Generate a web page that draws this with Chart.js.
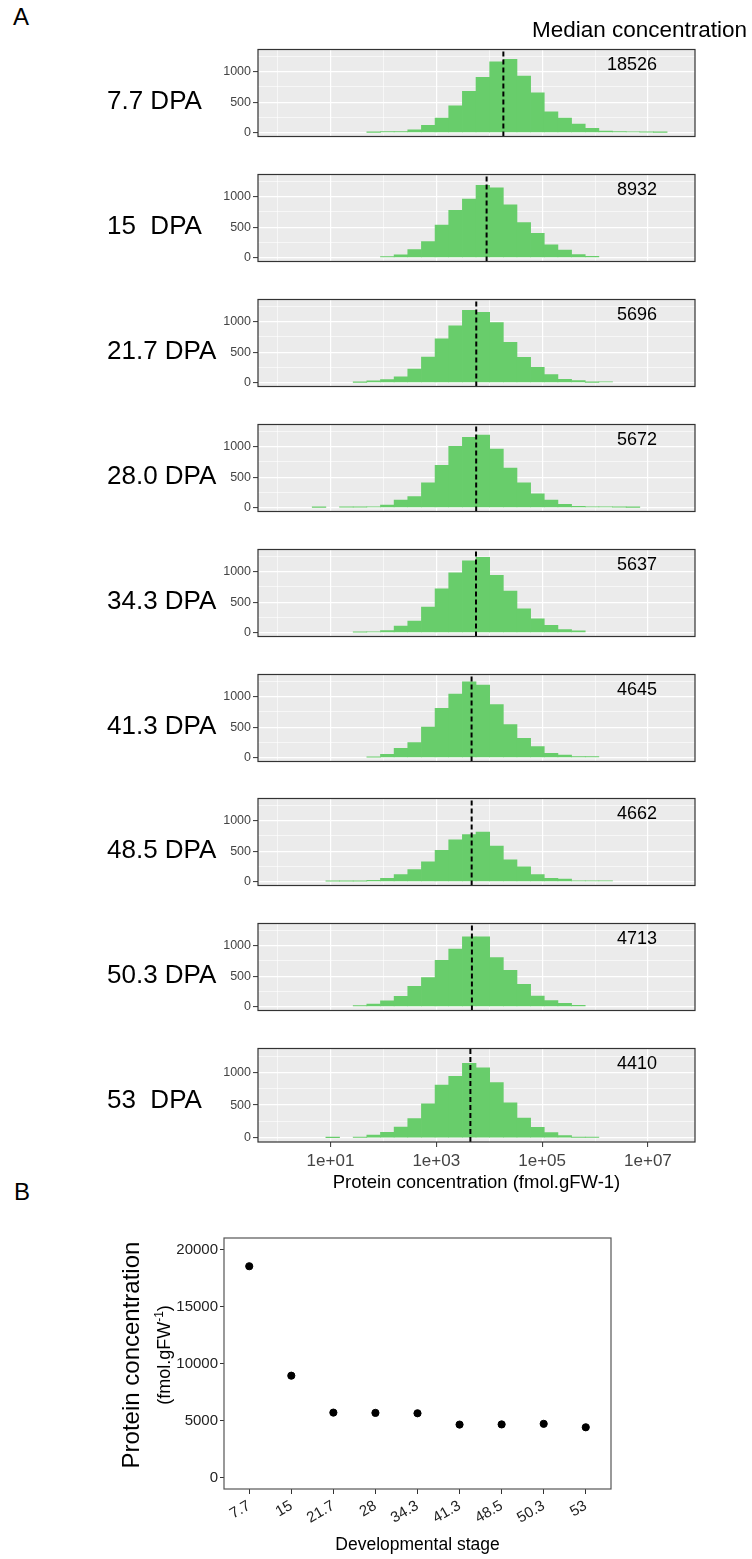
<!DOCTYPE html>
<html>
<head>
<meta charset="utf-8">
<script src="https://cdn.jsdelivr.net/npm/chart.js@4.4.0/dist/chart.umd.min.js"></script>
<style>
  body { margin: 0; background: #fff; font-family: 'Liberation Sans', Arial, sans-serif; }
  #page { position: relative; width: 752px; height: 1559px; overflow: hidden; }
  #page canvas { position: absolute; }
  .lbl { position: absolute; color: #000; white-space: pre; line-height: 1; z-index: 2; }
  .stage { font-size: 26px; left: 107px; }
  #ytitleB { position: absolute; left: 15px; top: 1327px; width: 260px; height: 56px;
             transform: rotate(-90deg); text-align: center; z-index: 2; color: #000; }
  #ytitleB div { height: 28px; line-height: 28px; white-space: nowrap; }
</style>
</head>
<body>
<div id="page">
  <div class="lbl" style="left:13px;top:5px;font-size:24px">A</div>
  <div class="lbl" style="left:14px;top:1180px;font-size:24px">B</div>
  <div class="lbl" style="left:532px;top:19px;font-size:22.5px">Median concentration</div>
  <div id="ytitleB">
    <div style="font-size:24px">Protein concentration</div>
    <div style="font-size:18px">(fmol.gFW<sup style="font-size:12px">-1</sup>)</div>
  </div>
</div>
<script>
// ---- data ----
const stages      = ['7.7', '15', '21.7', '28', '34.3', '41.3', '48.5', '50.3', '53'];
const stageLabels = ['7.7 DPA', '15  DPA', '21.7 DPA', '28.0 DPA', '34.3 DPA',
                     '41.3 DPA', '48.5 DPA', '50.3 DPA', '53  DPA'];
const medians     = [18526, 8932, 5696, 5672, 5637, 4645, 4662, 4713, 4410];

// histogram bin centres, log10(fmol.gFW-1)
const binCentres = [0.010, 0.268, 0.526, 0.784, 1.042, 1.300, 1.558, 1.816, 2.074, 2.332,
                    2.590, 2.848, 3.106, 3.364, 3.622, 3.880, 4.138, 4.396, 4.654, 4.912,
                    5.170, 5.428, 5.686, 5.944, 6.202, 6.460, 6.718, 6.976, 7.234, 7.492];

// counts per bin, one array per stage
const hist77  = [0,0,0,0,0,0,0,3,15,15,44,117,239,439,678,907,1161,1205,927,654,341,239,141,68,24,15,10,8,3,0];
const hist15  = [0,0,0,0,0,0,0,0,15,44,132,263,532,776,961,1185,1146,868,576,400,210,122,49,20,0,0,0,0,0,0];
const hist217 = [0,0,0,0,0,0,3,29,49,93,220,420,717,932,1185,1156,985,659,415,249,132,54,34,3,10,0,0,0,0,0];
const hist280 = [0,0,0,3,0,8,8,10,39,122,180,405,693,1005,1156,1190,961,649,405,224,122,54,20,10,10,8,3,0,0,0];
const hist343 = [0,0,0,0,0,0,5,10,34,108,187,419,719,980,1177,1236,941,680,389,227,118,49,30,0,0,0,0,0,0,0];
const hist413 = [0,0,0,0,0,0,0,8,54,153,246,502,808,1044,1246,1192,872,542,315,182,69,39,15,15,0,0,0,0,0,0];
const hist485 = [0,0,0,0,5,5,5,20,54,113,197,325,512,685,773,813,581,355,241,113,54,39,10,10,10,0,0,0,0,0];
const hist503 = [0,0,0,0,0,0,15,39,93,166,332,478,761,946,1146,1146,805,595,366,171,98,54,20,0,0,0,0,0,0,0];
const hist53  = [0,0,0,0,3,0,5,40,84,163,292,520,807,941,1139,1069,842,535,302,158,79,35,5,5,0,0,0,0,0,0];
const histograms = [hist77, hist15, hist217, hist280, hist343, hist413, hist485, hist503, hist53];

// axis ticks
const xMajor       = [1, 3, 5, 7];
const xMajorLabels = ['1e+01', '1e+03', '1e+05', '1e+07'];
const xMinor       = [0, 2, 4, 6];
const yMajor       = [0, 500, 1000];
const yMinor       = [250, 750, 1250];
const concTicks    = [0, 5000, 10000, 15000, 20000];

// ---- look ----
const FONT  = "'Liberation Sans', Arial, sans-serif";
const GREEN = '#68CD6B';
Chart.defaults.font.family = FONT;

// grey panel, frame and median label
const panelDeco = {
  id: 'panelDeco',
  beforeDraw(chart, args, o) {
    const { ctx, chartArea: a } = chart;
    ctx.save();
    ctx.fillStyle = o.bg;
    ctx.fillRect(a.left, a.top, a.right - a.left, a.bottom - a.top);
    ctx.restore();
  },
  afterDraw(chart, args, o) {
    const { ctx, chartArea: a } = chart;
    ctx.save();
    ctx.strokeStyle = o.border;
    ctx.lineWidth = o.borderWidth || 1.2;
    ctx.strokeRect(a.left, a.top, a.right - a.left, a.bottom - a.top);
    if (o.label) {
      ctx.font = '18px ' + FONT;
      ctx.fillStyle = '#000';
      ctx.textAlign = 'right';
      ctx.textBaseline = 'middle';
      ctx.fillText(o.label, a.right - 38, a.top + 16);
    }
    ctx.restore();
  }
};

const page = document.getElementById('page');

function addCanvas(left, top, w, h) {
  const c = document.createElement('canvas');
  c.width = w; c.height = h;
  c.style.left = left + 'px'; c.style.top = top + 'px';
  c.style.width = w + 'px'; c.style.height = h + 'px';
  page.appendChild(c);
  return c;
}

function addLabel(text, top) {
  const d = document.createElement('div');
  d.className = 'lbl stage';
  d.style.top = top + 'px';
  d.textContent = text;
  page.appendChild(d);
}

// ---- panel A: one histogram per stage ----
const Y_MIN = -65, Y_MAX = 1365;
const PLOT_H = 98;

histograms.forEach((counts, k) => {
  const last = k === histograms.length - 1;
  const plotTop = Math.round(45 + k * 124.9);
  const xH = last ? 54 : 0;
  const cv = addCanvas(200, plotTop - 5, 500, 5 + PLOT_H + (last ? xH : 3));
  addLabel(stageLabels[k], plotTop + 55 - 13);

  const med = Math.log10(medians[k]);
  const isMajorX = v => xMajor.includes(v);
  const isMajorY = v => yMajor.includes(v);

  new Chart(cv, {
    type: 'bar',
    data: {
      datasets: [
        {
          type: 'line',
          data: [{ x: med, y: Y_MIN }, { x: med, y: Y_MAX }],
          borderColor: '#000',
          borderWidth: 2,
          borderDash: [5, 3],
          pointRadius: 0,
          order: 0
        },
        {
          type: 'bar',
          // empty bins are left out (no zero-height sliver)
          data: binCentres.map((x, i) => ({ x, y: counts[i] > 0 ? counts[i] : null })),
          backgroundColor: GREEN,
          borderWidth: 0,
          barPercentage: 1,
          categoryPercentage: 1,
          order: 1
        }
      ]
    },
    options: {
      responsive: false,
      animation: false,
      layout: { padding: { top: 5, right: 5, bottom: last ? 0 : 3, left: 0 } },
      plugins: {
        legend: { display: false },
        tooltip: { enabled: false },
        panelDeco: { bg: '#EBEBEB', border: '#333', label: String(medians[k]) }
      },
      scales: {
        x: {
          type: 'linear',
          min: -0.37, max: 7.89,
          offset: false,
          afterBuildTicks: s => { s.ticks = xMinor.concat(xMajor).sort((a, b) => a - b).map(v => ({ value: v })); },
          afterFit: s => { s.height = xH; },
          ticks: {
            display: last,
            autoSkip: false,
            maxRotation: 0,
            padding: 4,
            color: '#444',
            font: { size: 17 },
            callback: v => { const i = xMajor.indexOf(v); return i < 0 ? '' : xMajorLabels[i]; }
          },
          grid: {
            offset: false,
            color: '#fff',
            lineWidth: c => isMajorX(c.tick.value) ? 1.2 : 0.6,
            drawTicks: last,
            tickLength: 5,
            tickWidth: 1,
            tickColor: c => isMajorX(c.tick.value) ? '#333' : 'rgba(0,0,0,0)'
          },
          border: { display: false },
          title: {
            display: last,
            text: 'Protein concentration (fmol.gFW-1)',
            color: '#000',
            font: { size: 18.5 },
            padding: { top: 0, bottom: 2 }
          }
        },
        y: {
          min: Y_MIN, max: Y_MAX,
          afterBuildTicks: s => { s.ticks = yMinor.concat(yMajor).sort((a, b) => a - b).map(v => ({ value: v })); },
          afterFit: s => { s.width = 58; },
          ticks: {
            autoSkip: false,
            padding: 2,
            color: '#444',
            font: { size: 12.5 },
            callback: v => isMajorY(v) ? String(v) : ''
          },
          grid: {
            color: '#fff',
            lineWidth: c => isMajorY(c.tick.value) ? 1.2 : 0.6,
            tickLength: 5,
            tickWidth: 1,
            tickColor: c => isMajorY(c.tick.value) ? '#333' : 'rgba(0,0,0,0)'
          },
          border: { display: false }
        }
      }
    },
    plugins: [panelDeco]
  });
});

// ---- panel B: medians by stage ----
const cvB = addCanvas(0, 1220, 752, 339);
new Chart(cvB, {
  type: 'scatter',
  data: {
    datasets: [{
      data: medians.map((y, i) => ({ x: i, y })),
      backgroundColor: '#000',
      borderColor: '#000',
      borderWidth: 1,
      pointRadius: 3.6
    }]
  },
  options: {
    responsive: false,
    animation: false,
    layout: { padding: { left: 154, right: 141, top: 18, bottom: 0 } },
    plugins: {
      legend: { display: false },
      tooltip: { enabled: false },
      panelDeco: { bg: 'rgba(0,0,0,0)', border: '#555' }
    },
    scales: {
      x: {
        type: 'linear',
        min: -0.6, max: 8.6,
        afterBuildTicks: s => { s.ticks = stages.map((_, i) => ({ value: i })); },
        afterFit: s => { s.height = 70; },
        ticks: {
          autoSkip: false,
          minRotation: 30, maxRotation: 30,
          padding: 3,
          color: '#222',
          font: { size: 15 },
          callback: v => stages[v]
        },
        grid: { drawOnChartArea: false, tickLength: 5, color: '#333' },
        border: { display: false },
        title: {
          display: true,
          text: 'Developmental stage',
          color: '#000',
          font: { size: 17.5 },
          padding: { top: 0, bottom: 3.5 }
        }
      },
      y: {
        min: -1000, max: 21000,
        afterBuildTicks: s => { s.ticks = concTicks.map(v => ({ value: v })); },
        afterFit: s => { s.width = 70; },
        ticks: {
          padding: 2,
          color: '#222',
          font: { size: 15 },
          callback: v => String(v)
        },
        grid: { drawOnChartArea: false, tickLength: 4, color: '#333' },
        border: { display: false }
      }
    }
  },
  plugins: [panelDeco]
});
</script>
</body>
</html>
